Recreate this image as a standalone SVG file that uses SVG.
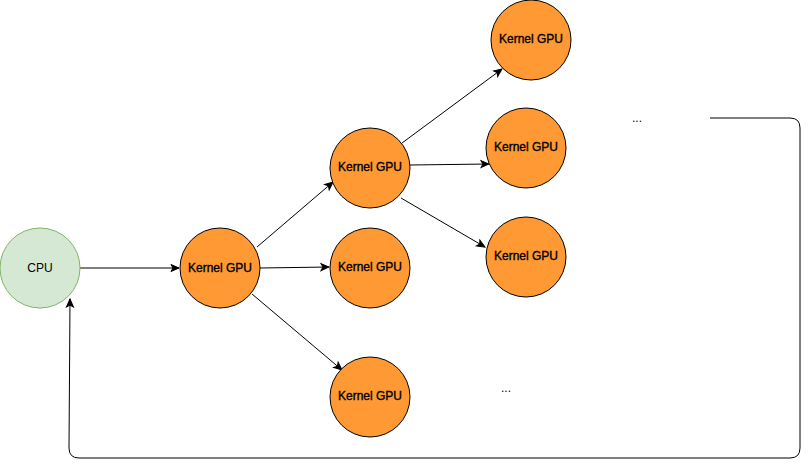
<svg xmlns="http://www.w3.org/2000/svg" width="812" height="470" viewBox="0 0 812 470">
<style>
.gpu{fill:#FF9933;stroke:#000;stroke-width:1}
.cpu{fill:#d5e8d4;stroke:#82b366;stroke-width:1}
.lbl{font-family:"Liberation Sans",Arial,sans-serif;font-size:12px;fill:#000;text-anchor:middle;dominant-baseline:central}
.kl{stroke:#000;stroke-width:0.35}
.edge{fill:none;stroke:#000;stroke-width:1;marker-end:url(#arr)}
</style>
<defs>
<marker id="arr" viewBox="0 0 10 10" refX="9" refY="5" markerWidth="10" markerHeight="10" markerUnits="userSpaceOnUse" orient="auto">
<path d="M1,1.5 L9,5 L1,8.5 L3,5 Z" fill="#000" stroke="#000" stroke-width="1"/>
</marker>
</defs>
<rect width="812" height="470" fill="#fff"/>
<g id="connectors">
<path class="edge" d="M80,268 L179,268"/>
<path class="edge" d="M257,247 L333,182"/>
<path class="edge" d="M260,268 L329,267"/>
<path class="edge" d="M252,294 L342,370"/>
<path class="edge" d="M402,143 L502,69"/>
<path class="edge" d="M410,165 L489,164"/>
<path class="edge" d="M401,198 L485,247"/>
<path class="edge" d="M710,118 L790,118 Q800,118 800,128 L800,448 Q800,458 790,458 L79,458 Q69,458 69,448 L70,299"/>
</g>
<g id="cpu"><circle class="cpu" cx="40" cy="268" r="40"/><text class="lbl" x="40" y="268">CPU</text></g>
<g id="k1"><circle class="gpu" cx="220" cy="268" r="40"/><text class="lbl kl" x="220" y="268">Kernel GPU</text></g>
<g id="k2"><circle class="gpu" cx="370" cy="168" r="40"/><text class="lbl kl" x="370" y="167">Kernel GPU</text></g>
<g id="k3"><circle class="gpu" cx="370" cy="268" r="40"/><text class="lbl kl" x="370" y="267">Kernel GPU</text></g>
<g id="k4"><circle class="gpu" cx="370" cy="397" r="40"/><text class="lbl kl" x="370" y="396">Kernel GPU</text></g>
<g id="k5"><circle class="gpu" cx="531" cy="40" r="40"/><text class="lbl kl" x="531" y="39">Kernel GPU</text></g>
<g id="k6"><circle class="gpu" cx="526" cy="148" r="40"/><text class="lbl kl" x="526" y="147">Kernel GPU</text></g>
<g id="k7"><circle class="gpu" cx="526" cy="257" r="40"/><text class="lbl kl" x="526" y="256">Kernel GPU</text></g>
<g id="dots1"><text class="lbl" x="637" y="118">...</text></g>
<g id="dots2"><text class="lbl" x="506" y="388">...</text></g>
</svg>
